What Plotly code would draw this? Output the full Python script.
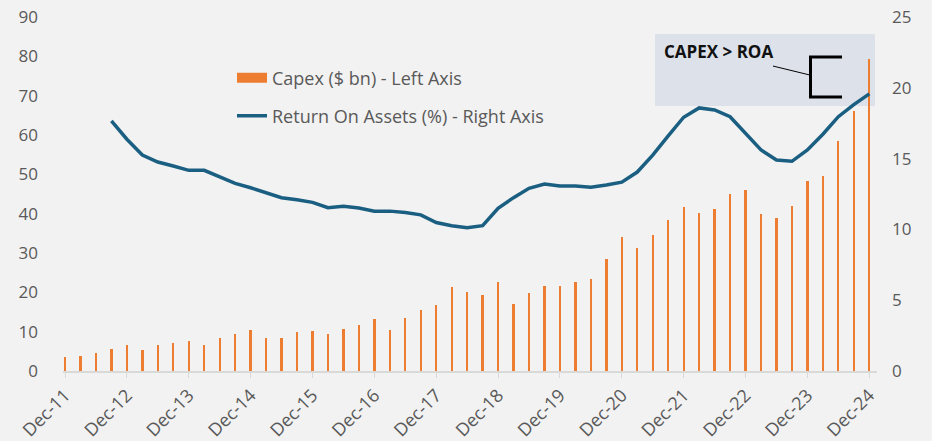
import plotly.graph_objects as go

# Quarterly periods Dec-11 .. Dec-24 (53 quarters)
quarters = list(range(53))
tick_labels = ["Dec-11", "Dec-12", "Dec-13", "Dec-14", "Dec-15", "Dec-16", "Dec-17",
               "Dec-18", "Dec-19", "Dec-20", "Dec-21", "Dec-22", "Dec-23", "Dec-24"]
tick_positions = [4 * i for i in range(len(tick_labels))]

capex = [3.5, 3.7, 4.7, 5.7, 6.5, 5.3, 6.5, 7.0, 7.6, 6.5,
         8.3, 9.5, 10.4, 8.3, 8.3, 9.8, 10.1, 9.5, 10.6, 11.8,
         13.2, 10.4, 13.5, 15.5, 16.7, 21.3, 20.0, 19.3, 22.7, 17.0,
         19.9, 21.5, 21.5, 22.7, 23.3, 28.4, 34.1, 31.2, 34.7, 38.3,
         41.6, 40.2, 41.2, 45.0, 46.0, 39.9, 38.8, 41.9, 48.3, 49.6,
         58.4, 66.1, 79.2]

roa = [None, None, None, 17.66, 16.37, 15.25, 14.76, 14.48, 14.17, 14.17,
       13.72, 13.25, 12.94, 12.62, 12.24, 12.10, 11.91, 11.53, 11.63, 11.51,
       11.29, 11.29, 11.20, 11.03, 10.49, 10.26, 10.11, 10.26, 11.49, 12.24,
       12.90, 13.20, 13.06, 13.06, 12.97, 13.13, 13.34, 14.05, 15.25, 16.60,
       17.92, 18.58, 18.44, 17.96, 16.74, 15.61, 14.90, 14.81, 15.61, 16.72,
       17.96, 18.81, 19.57]

ORANGE = "#ED7D31"
BLUE = "#1A5F82"
GRAY = "#595959"
FONT = "Open Sans"

# plot area in pixels
L, R, T, B = 63, 877, 17, 370.7

def px(x):
    return (x - L) / (R - L)

def py(y):
    return (B - y) / (B - T)

fig = go.Figure()
fig.add_trace(go.Bar(
    x=quarters, y=capex, name="Capex ($ bn) - Left Axis",
    marker=dict(color=ORANGE, line=dict(width=0)), width=0.15,
    showlegend=False,
))
# legend entry for Capex drawn as a wide rectangle swatch
fig.add_trace(go.Scatter(
    x=[None], y=[None], name="Capex ($ bn) - Left Axis", mode="lines",
    line=dict(color=ORANGE, width=10), legend="legend", hoverinfo="skip",
))
fig.add_trace(go.Scatter(
    x=quarters, y=roa, name="Return On Assets (%) - Right Axis",
    mode="lines", line=dict(color=BLUE, width=3.5),
    yaxis="y2", legend="legend2",
))

# Annotation box and bracket
fig.add_shape(type="rect", xref="paper", yref="paper",
              x0=px(655), x1=px(875), y0=py(106), y1=py(34),
              fillcolor="#DCE1EA", line=dict(width=0), layer="below")
fig.add_shape(type="path", xref="paper", yref="paper",
              path=f"M {px(842)},{py(57)} L {px(810.5)},{py(57)} L {px(810.5)},{py(97)} L {px(842)},{py(97)}",
              line=dict(color="black", width=3))
fig.add_shape(type="line", xref="paper", yref="paper",
              x0=px(773), y0=py(66), x1=px(810), y1=py(75),
              line=dict(color="black", width=1))
fig.add_annotation(xref="paper", yref="paper", x=px(662), y=py(51),
                   xanchor="left", yanchor="middle", showarrow=False,
                   text="<b>CAPEX > ROA</b>",
                   font=dict(family=FONT, size=17, color="#111111"))

fig.update_layout(
    width=932, height=441,
    margin=dict(l=L, r=932 - R, t=T, b=441 - B),
    paper_bgcolor="#F2F2F2", plot_bgcolor="rgba(0,0,0,0)",
    font=dict(family=FONT, color=GRAY, size=16),
    bargap=0,
    showlegend=True,
    legend=dict(x=px(232), y=py(78), xanchor="left", yanchor="middle",
                bgcolor="rgba(0,0,0,0)", font=dict(size=18, color=GRAY),
                itemwidth=30),
    legend2=dict(x=px(232), y=py(116), xanchor="left", yanchor="middle",
                 bgcolor="rgba(0,0,0,0)", font=dict(size=18, color=GRAY),
                 itemwidth=30),
    xaxis=dict(
        range=[-0.13, 52.5], tickmode="array", tickvals=tick_positions,
        ticktext=tick_labels, tickangle=-45, showgrid=False, zeroline=False,
        showline=True, linecolor="#D9D9D9", linewidth=1.5,
        ticks="outside", tickcolor="#D9D9D9", ticklen=5, automargin=False,
        tickfont=dict(family=FONT, size=18, color=GRAY),
    ),
    yaxis=dict(
        range=[0, 90], tickvals=list(range(0, 91, 10)), showgrid=False,
        zeroline=False, showline=False, ticks="", ticklabelstandoff=24,
        automargin=False,
        tickfont=dict(family=FONT, size=17, color=GRAY),
    ),
    yaxis2=dict(
        range=[0, 25], tickvals=list(range(0, 26, 5)), overlaying="y",
        side="right", showgrid=False, zeroline=False, showline=False,
        ticks="", ticklabelstandoff=14, automargin=False,
        tickfont=dict(family=FONT, size=17, color=GRAY),
    ),
)

fig.write_html(
    "out.html",
    config={"displayModeBar": False},
    post_script="document.body.style.margin='0px';"
                "document.body.style.background='#F2F2F2';",
)
